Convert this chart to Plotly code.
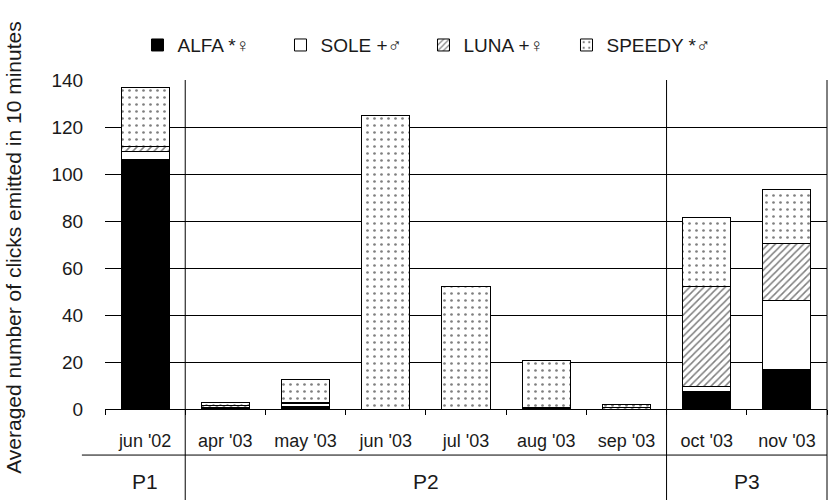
import plotly.graph_objects as go

months = ["jun '02", "apr '03", "may '03", "jun '03", "jul '03", "aug '03", "sep '03", "oct '03", "nov '03"]
alfa = [106, 0.3, 1.2, 0, 0, 0.8, 0, 7.6, 17]
sole = [3.5, 0.5, 1.0, 0, 0, 0, 0, 2.0, 29]
luna = [2.0, 0.5, 0.5, 0, 0, 0, 0.5, 42.5, 24.5]
speedy = [25.5, 1.5, 10.0, 125, 52, 20, 1.5, 29.5, 23]
periods = ["P1", "P2", "P3"]
period_pos = [0, 3.5, 7.5]
series_names = ["ALFA *♀", "SOLE +♂", "LUNA +♀", "SPEEDY *♂"]

FONT = "Liberation Sans, DejaVu Sans, Arial, sans-serif"
TXT = "#1a1a1a"
line = dict(color="black", width=1)

fig = go.Figure()
fig.add_bar(x=months, y=alfa, name=series_names[0],
            marker=dict(color="black", line=line))
fig.add_bar(x=months, y=sole, name=series_names[1],
            marker=dict(color="white", line=line))
fig.add_bar(x=months, y=luna, name=series_names[2],
            marker=dict(color="white", line=line,
                        pattern=dict(shape="/", fgcolor="black", bgcolor="white", size=5, solidity=0.3)))
fig.add_bar(x=months, y=speedy, name=series_names[3],
            marker=dict(color="white", line=line,
                        pattern=dict(shape=".", fgcolor="black", bgcolor="white", size=7, solidity=0.12)))

shapes = [
    dict(type="line", xref="x", yref="paper", x0=0.5, x1=0.5, y0=-0.3, y1=1, line=line),
    dict(type="line", xref="x", yref="paper", x0=6.5, x1=6.5, y0=-0.3, y1=1, line=line),
    dict(type="line", xref="paper", yref="paper", x0=1, x1=1, y0=-0.3, y1=1, line=line),
    dict(type="line", xref="paper", yref="paper", x0=-0.032, x1=1, y0=-0.14, y1=-0.14, line=line),
]

annotations = [
    dict(text=p, x=xp, xref="x", y=-0.22, yref="paper", showarrow=False,
         font=dict(family=FONT, size=21, color=TXT), xanchor="center", yanchor="middle")
    for p, xp in zip(periods, period_pos)
]
annotations.append(dict(text="Averaged number of clicks emitted in 10 minutes",
                        x=-0.126, xref="paper", y=0.49, yref="paper", textangle=-90,
                        showarrow=False, xanchor="center", yanchor="middle",
                        font=dict(family=FONT, size=21, color=TXT)))

fig.update_layout(
    width=832, height=500,
    margin=dict(l=105, r=5, t=80, b=91, autoexpand=False),
    barmode="stack", bargap=0.4,
    paper_bgcolor="white", plot_bgcolor="white",
    font=dict(family=FONT, size=19, color=TXT),
    showlegend=True,
    legend=dict(orientation="h", x=0.045, y=1.106, xanchor="left", yanchor="middle",
                font=dict(family=FONT, size=19, color=TXT),
                itemwidth=30, entrywidth=98, entrywidthmode="pixels",
                tracegroupgap=0, bgcolor="rgba(0,0,0,0)",
                traceorder="normal"),
    shapes=shapes, annotations=annotations,
)
fig.update_xaxes(type="category", showline=True, linecolor="black", linewidth=1,
                 ticks="outside", tickson="boundaries", ticklen=5, tickcolor="black",
                 showgrid=False, ticklabelstandoff=15,
                 tickfont=dict(family=FONT, size=18, color=TXT))
fig.update_yaxes(range=[0, 140], dtick=20, showgrid=True, gridcolor="black", gridwidth=1,
                 showline=False, zeroline=False, ticks="outside", ticklen=0,
                 ticklabelstandoff=17,
                 tickfont=dict(family=FONT, size=19, color=TXT))

fig.write_html("out.html", config={"displayModeBar": False},
               post_script="document.body.style.margin='0';document.body.style.overflow='hidden';")
